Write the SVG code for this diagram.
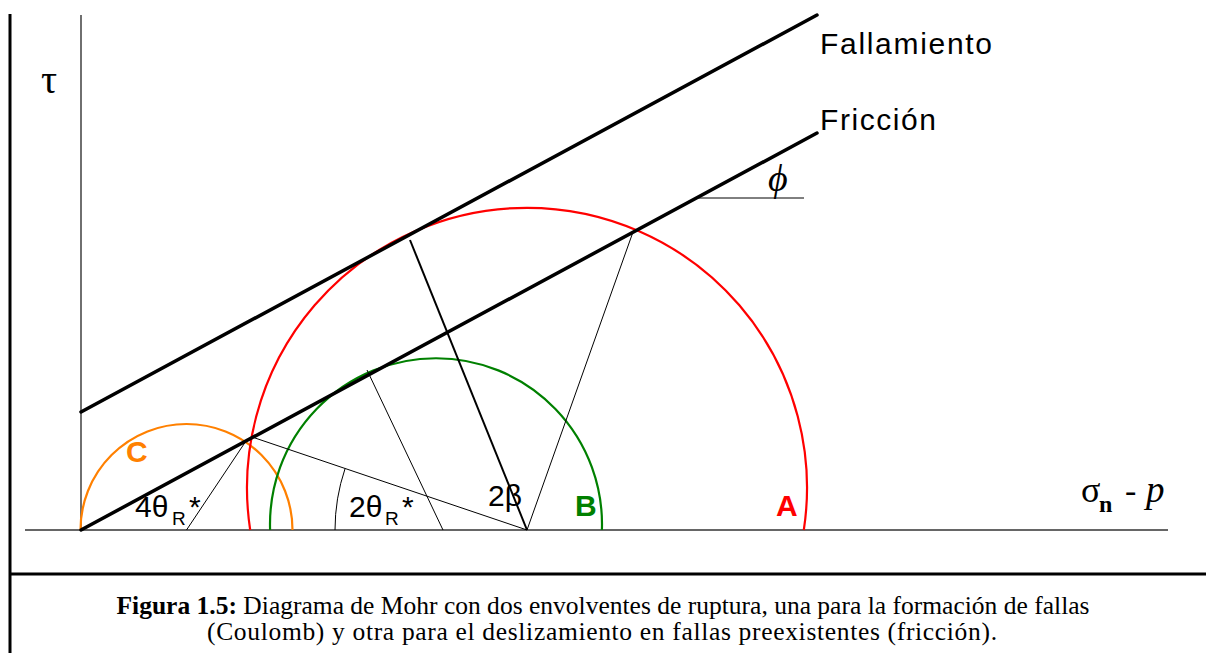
<svg xmlns="http://www.w3.org/2000/svg" width="1206" height="653" viewBox="0 0 1206 653">
<style>
.sans{font-family:"Liberation Sans",Arial,sans-serif}
.serif{font-family:"Liberation Serif","Times New Roman",serif}
.thin{stroke:#000;stroke-width:1;fill:none}
.mid{stroke:#000;stroke-width:2;fill:none}
.env{stroke:#000;stroke-width:3.5;fill:none;stroke-linecap:round}
.axis{stroke:#333;stroke-width:1.4;fill:none}
.circ{fill:none;stroke-width:2.2}
.lbl{font-size:30px;fill:#000}
.sub{font-size:19px}
.big{font-size:30px;font-weight:bold}
.cap{font-size:25.5px;fill:#000}
</style>
<rect width="1206" height="653" fill="#fff"/>
<g id="frame">
  <line x1="10" y1="14" x2="10" y2="653" stroke="#000" stroke-width="3"/>
  <line x1="10" y1="574" x2="1206" y2="574" stroke="#000" stroke-width="3"/>
</g>
<g id="axes">
  <line class="axis" x1="81" y1="15" x2="81" y2="530"/>
  <line class="axis" x1="25" y1="530" x2="1168" y2="530"/>
  <text class="serif" x="41" y="93" font-size="40">τ</text>
  <text class="serif" x="1081" y="502" font-size="36">σ</text>
  <text class="serif" x="1099" y="512" font-size="24" font-weight="bold">n</text>
  <text class="serif" x="1125" y="502" font-size="34">-</text>
  <text class="serif" x="1146" y="502" font-size="37" font-style="italic">p</text>
</g>
<g id="circle-C">
  <path class="circ" stroke="#ff8000" d="M80.5,530 A106,106 0 1 1 292.5,530"/>
  <text class="sans big" x="126" y="462" fill="#ff8000">C</text>
</g>
<g id="circle-B">
  <path class="circ" stroke="#008000" d="M270.1,530 A166,166 0 1 1 601.9,530"/>
  <text class="sans big" x="575" y="516" fill="#008000">B</text>
</g>
<g id="circle-A">
  <path class="circ" stroke="#ff0000" d="M250.2,530 A280,280 0 1 1 803.8,530"/>
  <text class="sans big" x="776" y="516" fill="#ff0000">A</text>
</g>
<g id="envelope-fallamiento">
  <line class="env" x1="81" y1="412" x2="817" y2="15"/>
  <text class="sans lbl" x="820" y="54" textLength="172" lengthAdjust="spacing">Fallamiento</text>
</g>
<g id="envelope-friccion">
  <line class="env" x1="81" y1="530" x2="817" y2="133"/>
  <text class="sans lbl" x="820" y="130" textLength="116" lengthAdjust="spacing">Fricción</text>
  <line class="thin" x1="697" y1="198" x2="804" y2="198"/>
  <text class="serif" x="768" y="191" font-size="38" font-style="italic">ϕ</text>
</g>
<g id="connectors">
  <line class="mid" x1="410" y1="240" x2="527" y2="530"/>
  <line class="thin" x1="633" y1="232" x2="527" y2="530"/>
  <line class="thin" x1="252" y1="437" x2="527" y2="530"/>
  <line class="thin" x1="367" y1="370" x2="443" y2="530"/>
  <line class="thin" x1="246" y1="441" x2="186.5" y2="530"/>
  <path class="thin" d="M335,530 A192,192 0 0 1 345.1,468.5"/>
</g>
<g id="angle-labels">
  <text class="sans lbl" x="135" y="517">4θ<tspan class="sub" x="172" y="525">R</tspan><tspan x="189" y="517">*</tspan></text>
  <text class="sans lbl" x="349" y="517">2θ<tspan class="sub" x="385" y="525">R</tspan><tspan x="402" y="517">*</tspan></text>
  <text class="sans lbl" x="488" y="506">2β</text>
</g>
<g id="caption">
  <text class="serif cap" x="603" y="614" text-anchor="middle" textLength="973" lengthAdjust="spacing"><tspan font-weight="bold">Figura 1.5:</tspan> Diagrama de Mohr con dos envolventes de ruptura, una para la formación de fallas</text>
  <text class="serif cap" x="602" y="640" text-anchor="middle" textLength="790" lengthAdjust="spacing">(Coulomb) y otra para el deslizamiento en fallas preexistentes (fricción).</text>
</g>
</svg>
